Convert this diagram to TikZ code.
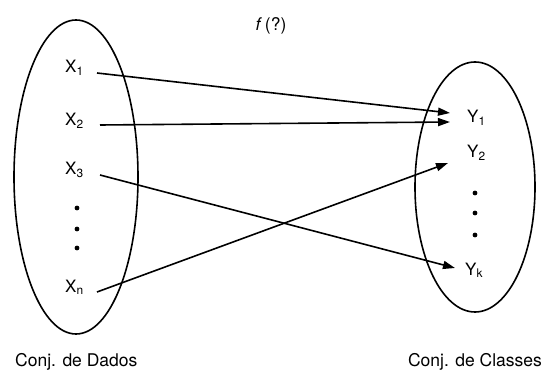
\documentclass[tikz,border=0pt]{standalone}
\usepackage{fontspec}
\setmainfont{TeX Gyre Heros}
\usetikzlibrary{arrows.meta,positioning,shapes.geometric}

\begin{document}
\begin{tikzpicture}[x=1pt,y=-1pt,
  conj/.style={draw, ellipse, line width=1.6pt, inner sep=0pt},
  elem/.style={inner sep=0pt, anchor=base west, font=\fontsize{17}{20}\selectfont},
  rotulo/.style={inner sep=0pt, font=\fontsize{17.5}{20}\selectfont},
  seta/.style={line width=1.6pt, -{Triangle[length=12pt,width=8pt]}}]
\useasboundingbox (0,0) rectangle (543,374);
\node[conj, minimum width=124pt, minimum height=314pt] (dados) at (76,177) {};
\node[conj, minimum width=120pt, minimum height=250pt] (classes) at (475,187) {};

\node[elem] (x1) at (65,73) {X\textsubscript{1}};
\node[elem] (x2) at (65,126) {X\textsubscript{2}};
\node[elem] (x3) at (65,175) {X\textsubscript{3}};
\node[elem] (xn) at (65,292) {X\textsubscript{n}};
\node[elem] (y1) at (467,123) {Y\textsubscript{1}};
\node[elem] (y2) at (467,158) {Y\textsubscript{2}};
\node[elem] (yk) at (465,275) {Y\textsubscript{k}};

\foreach \y in {208,229,248} \fill (77,\y) circle (2.4pt);
\foreach \y in {193,213,235} \fill (475,\y) circle (2.4pt);

\node[rotulo, anchor=base] (func) at (271,31) {\textit{f}\,(?)};
\node[rotulo, anchor=base west] (ldados) at (15,366) {Conj. de Dados};
\node[rotulo, anchor=base] (lclasses) at (475,366) {Conj. de Classes};

\draw[seta] ([xshift=32pt]x1.base west) -- ([xshift=-17pt,yshift=10pt]y1.base west);
\draw[seta] ([xshift=35pt,yshift=1pt]x2.base west) -- ([xshift=-17pt,yshift=1pt]y1.base west);
\draw[seta] ([xshift=35pt]x3.base west) -- ([xshift=-10pt,yshift=7pt]yk.base west);
\draw[seta] ([xshift=32pt]xn.base west) -- ([xshift=-19pt,yshift=-5pt]y2.base west);
\end{tikzpicture}
\end{document}
